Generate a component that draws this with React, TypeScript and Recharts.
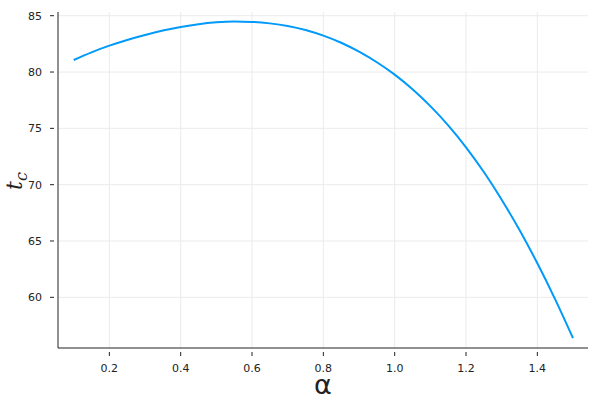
import React from 'react';
import { LineChart, Line, XAxis, YAxis, CartesianGrid } from 'recharts';

const alphas = [0.1, 0.15, 0.2, 0.25, 0.3, 0.35, 0.4, 0.45, 0.5, 0.55, 0.6, 0.65, 0.7, 0.75, 0.8, 0.85, 0.9, 0.95, 1.0, 1.05, 1.1, 1.15, 1.2, 1.25, 1.3, 1.35, 1.4, 1.45, 1.5];
const tcValues = [81.07, 81.75, 82.34, 82.85, 83.29, 83.68, 84.0, 84.25, 84.41, 84.48, 84.45, 84.32, 84.09, 83.73, 83.23, 82.6, 81.81, 80.87, 79.77, 78.47, 76.97, 75.27, 73.32, 71.12, 68.67, 65.97, 63.02, 59.82, 56.37];
const xTicks = [0.2, 0.4, 0.6, 0.8, 1.0, 1.2, 1.4];
const yTicks = [60, 65, 70, 75, 80, 85];

const data = alphas.map((a, i) => ({ alpha: a, tc: tcValues[i] }));

const FONT = '"DejaVu Sans", sans-serif';

const XTick = (props: any) => {
  const { x, y, payload } = props;
  return (
    <g>
      <line x1={x} x2={x} y1={y} y2={y - 4} stroke="#222" strokeWidth={1} />
      <text x={x} y={y + 16} textAnchor="middle" fontSize={11} fill="#222" fontFamily={FONT}>
        {Number(payload.value).toFixed(1)}
      </text>
    </g>
  );
};

const YTick = (props: any) => {
  const { x, y, payload } = props;
  return (
    <g>
      <line x1={x} x2={x + 4} y1={y} y2={y} stroke="#222" strokeWidth={1} />
      <text x={x - 8} y={y + 4} textAnchor="end" fontSize={11} fill="#222" fontFamily={FONT}>
        {payload.value}
      </text>
    </g>
  );
};

const App = () => {
  return (
    <div style={{ position: 'absolute', left: 0, top: 0, background: '#fff' }}>
      <LineChart width={600} height={400} data={data} margin={{ top: 12, right: 12, bottom: 0, left: 0 }}>
        <CartesianGrid stroke="#ebebeb" strokeWidth={1} horizontalValues={yTicks} verticalValues={xTicks} />
        <XAxis
          dataKey="alpha"
          type="number"
          domain={[0.056, 1.542]}
          ticks={xTicks}
          allowDataOverflow
          height={52}
          tickLine={false}
          tick={<XTick />}
          stroke="#222"
          label={({ viewBox }: any) => (
            <text x={viewBox.x + viewBox.width / 2} y={394} textAnchor="middle" fontSize={27} fill="#222" fontFamily={FONT}>
              α
            </text>
          )}
        />
        <YAxis
          type="number"
          domain={[55.5, 85.33]}
          ticks={yTicks}
          allowDataOverflow
          width={58}
          tickLine={false}
          tick={<YTick />}
          stroke="#222"
          label={() => {
            const cx = 22;
            const cy = 181;
            return (
              <text x={cx} y={cy} transform={`rotate(-90 ${cx} ${cy})`} textAnchor="middle" fontSize={22} fill="#222" fontFamily='"DejaVu Serif", serif' fontStyle="italic">
                t<tspan fontSize={16} dy={5}>c</tspan>
              </text>
            );
          }}
        />
        <Line type="monotone" dataKey="tc" stroke="#009AFA" strokeWidth={2} dot={false} isAnimationActive={false} />
      </LineChart>
    </div>
  );
};

export default App;
